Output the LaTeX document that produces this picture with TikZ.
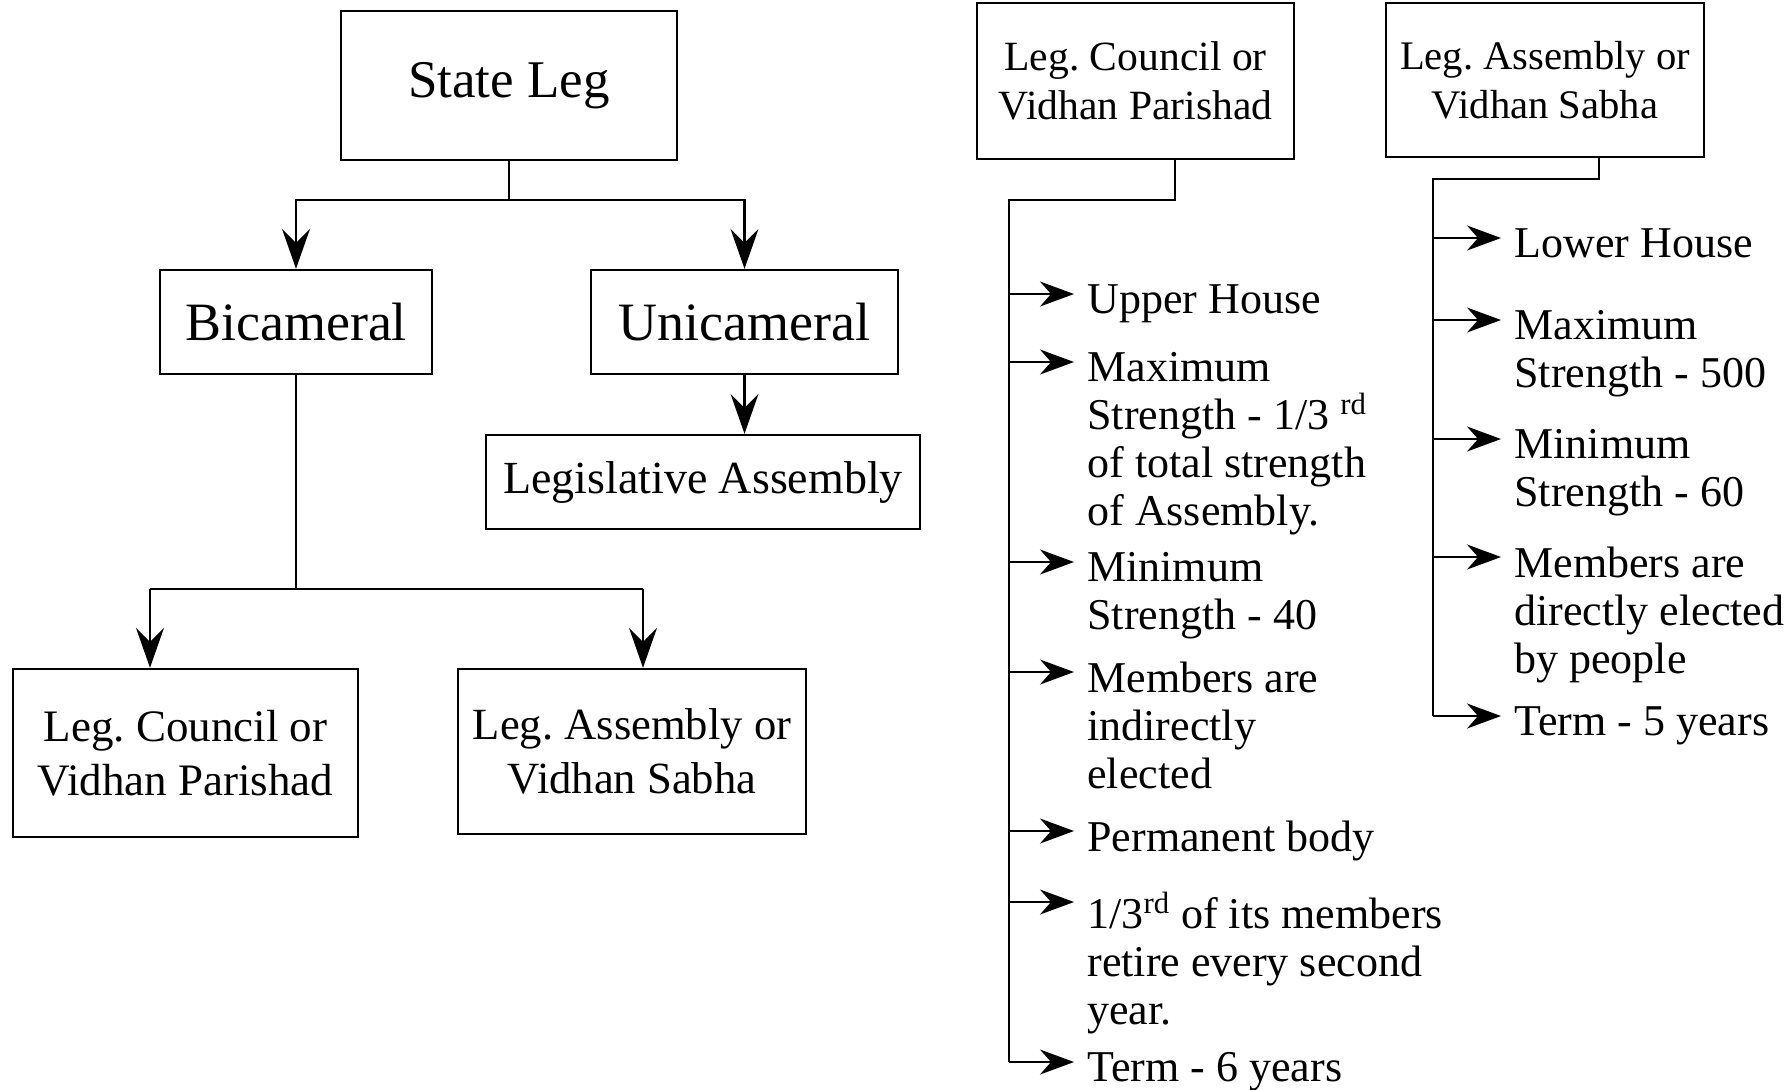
\documentclass[tikz,border=0pt]{standalone}
\usepackage{fontspec}
\setmainfont{Liberation Serif}
\frenchspacing
\usetikzlibrary{arrows.meta, calc}
\tikzset{>={Stealth[length=20pt, width=14pt, inset=7pt]}}
\tikzstyle{box} = [draw, line width=1.2pt, align=center, inner sep=0pt]
\tikzstyle{link} = [line width=1.1pt]
\tikzstyle{pointer} = [-{Stealth[length=17pt, width=12.5pt, inset=5.5pt]}, line width=1.1pt]
\tikzstyle{leaf} = [anchor=north west, align=left, inner sep=0pt, font=\fontsize{22}{24}\selectfont]
\newcommand{\branch}[5]{
\node[leaf] (#2) at (#3,#4) {#5};
\coordinate (#2-in) at ($(#2.north west)+(-13,10)$);
\draw[pointer] (#1 |- #2-in) -- (#2-in);
}

\begin{document}
\begin{tikzpicture}[x=0.5pt, y=-0.5pt]
		\useasboundingbox (0,0) rectangle (1792,1089);
		
		% Tree boxes
		\node[box, minimum width=168pt, minimum height=74.5pt, font=\fontsize{26.5}{30}\selectfont] (stateleg) at (509,85.5) {State Leg};
		\node[box, minimum width=136pt, minimum height=52pt, font=\fontsize{27}{30}\selectfont] (bicam) at (296,322) {Bicameral};
		\node[box, minimum width=153.5pt, minimum height=52pt, font=\fontsize{27}{30}\selectfont] (unicam) at (744.5,322) {Unicameral};
		\node[box, minimum width=217pt, minimum height=47pt, font=\fontsize{23}{27}\selectfont] (legassem) at (703,482) {Legislative Assembly};
		\node[box, minimum width=172.5pt, minimum height=84pt, font=\fontsize{22.5}{27}\selectfont] (council) at (185.5,753) {Leg. Council or\\Vidhan Parishad};
		\node[box, minimum width=174pt, minimum height=82.5pt, font=\fontsize{22.3}{27}\selectfont] (assembly) at (632,751.5) {Leg. Assembly or\\Vidhan Sabha};
		
		% Tree connectors
		\coordinate (sl-j) at (509,200);
		\draw[link] (stateleg.south) -- (sl-j);
		\draw[link, ->] (sl-j) -| (bicam.north);
		\draw[link, ->] (sl-j) -| (unicam.north);
		\draw[link, ->] (unicam.south) -- (unicam.south |- legassem.north);
		\coordinate (bi-j) at (296,589);
		\coordinate (bi-l) at (150,589);
		\coordinate (bi-r) at (643,589);
		\draw[link] (bicam.south) -- (bi-j);
		\draw[link] (bi-l) -- (bi-r);
		\draw[link, ->] (bi-l) -- (bi-l |- council.north);
		\draw[link, ->] (bi-r) -- (bi-r |- assembly.north);
		
		% Council list
		\node[box, minimum width=158.5pt, minimum height=78pt, font=\fontsize{20.8}{24.5}\selectfont] (council2) at (1135.5,81) {Leg. Council or\\Vidhan Parishad};
		\coordinate (cp-a) at (1175,200);
		\coordinate (cp-s) at (1009,200);
		\branch{cp-s}{up}{1087}{284}{Upper House}
		\branch{cp-s}{maxc}{1087}{352}{Maximum\\Strength - 1/3 \textsuperscript{rd}\\of total strength\\of Assembly.}
		\branch{cp-s}{minc}{1087}{552}{Minimum\\Strength - 40}
		\branch{cp-s}{indir}{1087}{662}{Members are\\indirectly\\elected}
		\branch{cp-s}{perm}{1087}{821}{Permanent body}
		\branch{cp-s}{retire}{1087}{892}{1/3\textsuperscript{rd} of its members\\retire every second\\year.}
		\branch{cp-s}{term6}{1087}{1052}{Term - 6 years}
		\draw[link] (cp-a |- council2.south) -- (cp-a) -- (cp-s) -- (cp-s |- term6-in);
		
		% Sabha list
		\node[box, minimum width=159pt, minimum height=77pt, font=\fontsize{20.3}{24.5}\selectfont] (assembly2) at (1545,80) {Leg. Assembly or\\Vidhan Sabha};
		\coordinate (vs-a) at (1599,179);
		\coordinate (vs-s) at (1433,179);
		\branch{vs-s}{low}{1514}{228}{Lower House}
		\branch{vs-s}{maxa}{1514}{310}{Maximum\\Strength - 500}
		\branch{vs-s}{mina}{1514}{429}{Minimum\\Strength - 60}
		\branch{vs-s}{direct}{1514}{547}{Members are\\directly elected\\by people}
		\branch{vs-s}{term5}{1514}{706}{Term - 5 years}
		\draw[link] (vs-a |- assembly2.south) -- (vs-a) -- (vs-s) -- (vs-s |- term5-in);
	\end{tikzpicture}
\end{document}
